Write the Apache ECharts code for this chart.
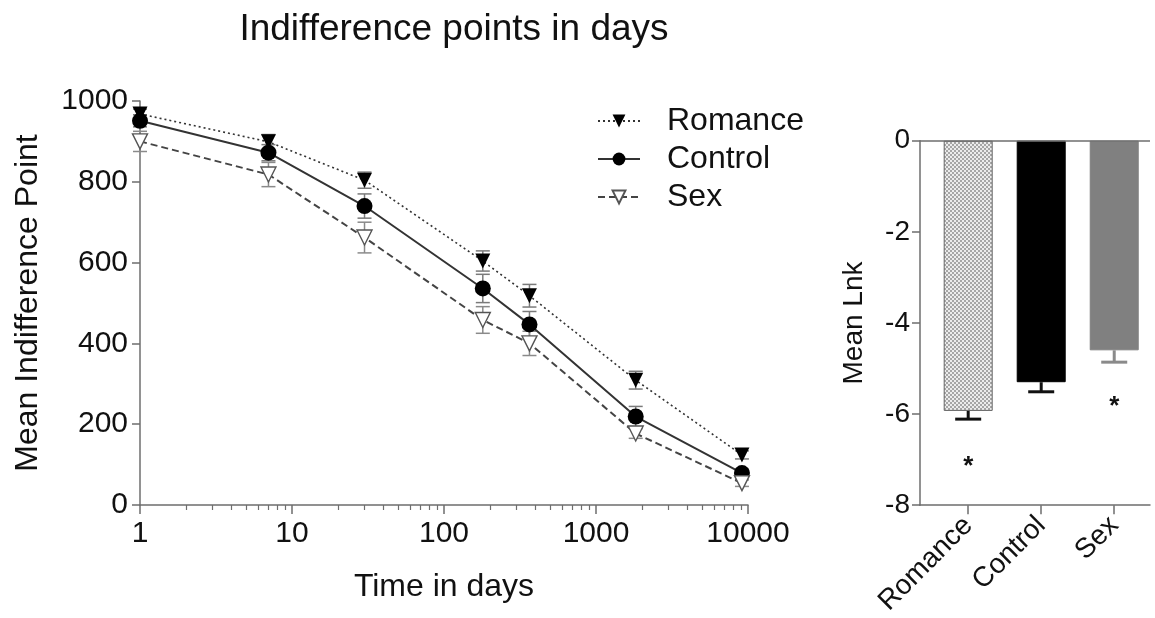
<!DOCTYPE html>
<html>
<head>
<meta charset="utf-8">
<script src="https://cdn.jsdelivr.net/npm/echarts@6/dist/echarts.min.js"></script>
<style>
html,body{margin:0;padding:0;background:#fff;}
#chart{width:1155px;height:618px;}
</style>
</head>
<body>
<div id="chart"></div>
<script>
// ---- Data ----
const days = [1, 7, 30, 180, 365, 1825, 9125];
const romance = [968, 899, 804, 604, 518, 309, 124];
const control = [951, 872, 740, 536, 447, 219, 79];
const sex = [900, 818, 662, 458, 400, 177, 54];
const romanceErr = [12, 18, 20, 25, 28, 22, 10];
const controlErr = [15, 20, 30, 35, 32, 25, 10];
const sexErr = [25, 30, 38, 33, 30, 12, 8];
const xTickLabels = [1, 10, 100, 1000, 10000];
const yTickLabels = [0, 200, 400, 600, 800, 1000];

const groups = ['Romance', 'Control', 'Sex'];
const meanLnk = [-5.93, -5.30, -4.60];
const lnkErr = [0.18, 0.21, 0.26];
const starGroups = [0, 2];
const starY = [-7.05, -5.73];

// ---- helpers ----
const FONT = 'Liberation Sans, Arial, Helvetica, sans-serif';
const minorTicks = [];
for (let dec = 1; dec < 10000; dec *= 10) {
  for (let k = 2; k <= 9; k++) minorTicks.push(k * dec);
}

function makePattern() {
  const c = document.createElement('canvas');
  c.width = 4; c.height = 4;
  const g = c.getContext('2d');
  g.fillStyle = '#ececec'; g.fillRect(0, 0, 4, 4);
  g.fillStyle = '#a6a6a6';
  g.fillRect(0, 0, 2, 2); g.fillRect(2, 2, 2, 2);
  return c;
}

function errSeries(name, vals, errs, color) {
  return {
    name: name, type: 'custom', xAxisIndex: 0, yAxisIndex: 0, z: 1,
    data: days.map((d, i) => [d, vals[i], errs[i]]),
    renderItem: function (params, api) {
      const x = api.value(0), y = api.value(1), e = api.value(2);
      const t = api.coord([x, y + e]);
      const b = api.coord([x, y - e]);
      const hw = 7;
      const st = { stroke: color, lineWidth: 1.5 };
      return {
        type: 'group', children: [
          { type: 'line', shape: { x1: t[0], y1: t[1], x2: b[0], y2: b[1] }, style: st },
          { type: 'line', shape: { x1: t[0] - hw, y1: t[1], x2: t[0] + hw, y2: t[1] }, style: st },
          { type: 'line', shape: { x1: b[0] - hw, y1: b[1], x2: b[0] + hw, y2: b[1] }, style: st }
        ]
      };
    }
  };
}

const barColors = [{ image: makePattern(), repeat: 'repeat' }, '#000000', '#808080'];
const barBorders = ['#666666', '#000000', '#808080'];
const errColors = ['#111111', '#111111', '#8a8a8a'];
const AX = '#6e6e6e';

const chart = echarts.init(document.getElementById('chart'), null, { renderer: 'canvas' });

const option = {
  backgroundColor: '#ffffff',
  animation: false,
  textStyle: { fontFamily: FONT },
  title: {
    text: 'Indifference points in days',
    left: 449, top: 6, textAlign: 'center',
    textStyle: { fontFamily: FONT, fontSize: 37, fontWeight: 'normal', color: '#111' }
  },
  legend: {
    orient: 'vertical', left: 592, top: 100, itemGap: 6,
    itemWidth: 42, itemHeight: 16,
    data: ['Romance', 'Control', 'Sex'],
    textStyle: { fontFamily: FONT, fontSize: 32, color: '#111', padding: [0, 0, 0, 22] }
  },
  grid: [
    { left: 140, top: 101, width: 608, height: 404 },
    { left: 920, top: 140.7, width: 230, height: 365.3 }
  ],
  xAxis: [
    {
      type: 'log', logBase: 10, min: 1, max: 10000, gridIndex: 0,
      name: 'Time in days', nameLocation: 'middle', nameGap: 66,
      nameTextStyle: { fontFamily: FONT, fontSize: 32, color: '#111' },
      axisLine: { onZero: false, lineStyle: { color: AX, width: 1.5 } },
      axisTick: { length: 9, lineStyle: { color: AX, width: 1.5 }, customValues: xTickLabels },
      axisLabel: {
        fontFamily: FONT, fontSize: 30, color: '#111', margin: 14, customValues: xTickLabels,
        formatter: v => String(Math.round(v))
      },
      splitLine: { show: false }
    },
    {
      type: 'log', logBase: 10, min: 1, max: 10000, gridIndex: 0, position: 'bottom',
      axisLine: { show: false, onZero: false },
      axisTick: { length: 5, lineStyle: { color: AX, width: 1.2 }, customValues: minorTicks },
      axisLabel: { show: false },
      splitLine: { show: false }
    },
    {
      type: 'value', gridIndex: 1, min: -0.66, max: 2.49, position: 'bottom',
      axisLine: { onZero: false, lineStyle: { color: AX, width: 1.5 } },
      axisTick: { length: 9, lineStyle: { color: AX, width: 1.5 }, customValues: [0, 1, 2] },
      axisLabel: {
        fontFamily: FONT, fontSize: 28, color: '#111', rotate: 45, margin: 16,
        customValues: [0, 1, 2],
        formatter: v => groups[Math.round(v)] || ''
      },
      splitLine: { show: false }
    }
  ],
  yAxis: [
    {
      type: 'value', gridIndex: 0, min: 0, max: 1000, interval: 200,
      name: 'Mean Indifference Point', nameLocation: 'middle', nameGap: 96,
      nameTextStyle: { fontFamily: FONT, fontSize: 32, color: '#111' },
      axisLine: { show: true, onZero: false, lineStyle: { color: AX, width: 1.5 } },
      axisTick: { show: true, length: 8, lineStyle: { color: AX, width: 1.5 } },
      axisLabel: { fontFamily: FONT, fontSize: 30, color: '#111', margin: 12, formatter: v => String(v) },
      splitLine: { show: false }
    },
    {
      type: 'value', gridIndex: 1, min: -8, max: 0, interval: 2, position: 'left',
      name: 'Mean Lnk', nameLocation: 'middle', nameGap: 52,
      nameTextStyle: { fontFamily: FONT, fontSize: 28, color: '#111' },
      axisLine: { show: true, onZero: false, lineStyle: { color: AX, width: 1.5 } },
      axisTick: { show: true, length: 8, lineStyle: { color: AX, width: 1.5 } },
      axisLabel: { fontFamily: FONT, fontSize: 28, color: '#111', margin: 10 },
      splitLine: { show: false }
    }
  ],
  series: [
    errSeries('Romance err', romance, romanceErr, '#7a7a7a'),
    errSeries('Control err', control, controlErr, '#7a7a7a'),
    errSeries('Sex err', sex, sexErr, '#8a8a8a'),
    {
      name: 'Romance', type: 'line', xAxisIndex: 0, yAxisIndex: 0, z: 3,
      data: days.map((d, i) => [d, romance[i]]),
      symbol: 'triangle', symbolRotate: 180, symbolSize: 15,
      lineStyle: { color: '#333', width: 1.6, type: [2, 3] },
      itemStyle: { color: '#000', borderColor: '#000', borderWidth: 0 }
    },
    {
      name: 'Control', type: 'line', xAxisIndex: 0, yAxisIndex: 0, z: 3,
      data: days.map((d, i) => [d, control[i]]),
      symbol: 'circle', symbolSize: 16,
      lineStyle: { color: '#333', width: 2, type: 'solid' },
      itemStyle: { color: '#000', borderColor: '#000', borderWidth: 0 }
    },
    {
      name: 'Sex', type: 'line', xAxisIndex: 0, yAxisIndex: 0, z: 3,
      data: days.map((d, i) => [d, sex[i]]),
      symbol: 'triangle', symbolRotate: 180, symbolSize: 15,
      lineStyle: { color: '#444', width: 2, type: [7, 4] },
      itemStyle: { color: '#ffffff', borderColor: '#555', borderWidth: 1.4 }
    },
    {
      name: 'Mean Lnk', type: 'bar', xAxisIndex: 2, yAxisIndex: 1, barWidth: 49,
      data: meanLnk.map((v, i) => ({
        value: [i, v],
        itemStyle: { color: barColors[i], borderColor: barBorders[i], borderWidth: 1 }
      })),
      markLine: {
        silent: true, symbol: 'none', label: { show: false },
        lineStyle: { color: AX, width: 1.5, type: 'solid' },
        data: [{ yAxis: 0 }]
      }
    },
    {
      name: 'Lnk err', type: 'custom', xAxisIndex: 2, yAxisIndex: 1, z: 3,
      data: meanLnk.map((v, i) => [i, v, lnkErr[i]]),
      renderItem: function (params, api) {
        const i = api.value(0), v = api.value(1), e = api.value(2);
        const t = api.coord([i, v]);
        const b = api.coord([i, v - e]);
        const hw = 13;
        const st = { stroke: errColors[params.dataIndex], lineWidth: 3 };
        return {
          type: 'group', children: [
            { type: 'line', shape: { x1: t[0], y1: t[1], x2: b[0], y2: b[1] }, style: st },
            { type: 'line', shape: { x1: b[0] - hw, y1: b[1], x2: b[0] + hw, y2: b[1] }, style: st }
          ]
        };
      }
    },
    {
      name: 'Stars', type: 'custom', xAxisIndex: 2, yAxisIndex: 1, z: 3,
      data: starGroups.map((g, i) => [g, starY[i]]),
      renderItem: function (params, api) {
        const p = api.coord([api.value(0), api.value(1)]);
        return {
          type: 'text', x: p[0], y: p[1] + 5,
          style: { text: '*', font: 'bold 26px ' + FONT, fill: '#111', align: 'center', verticalAlign: 'middle' }
        };
      }
    }
  ]
};
chart.setOption(option);
</script>
</body>
</html>
